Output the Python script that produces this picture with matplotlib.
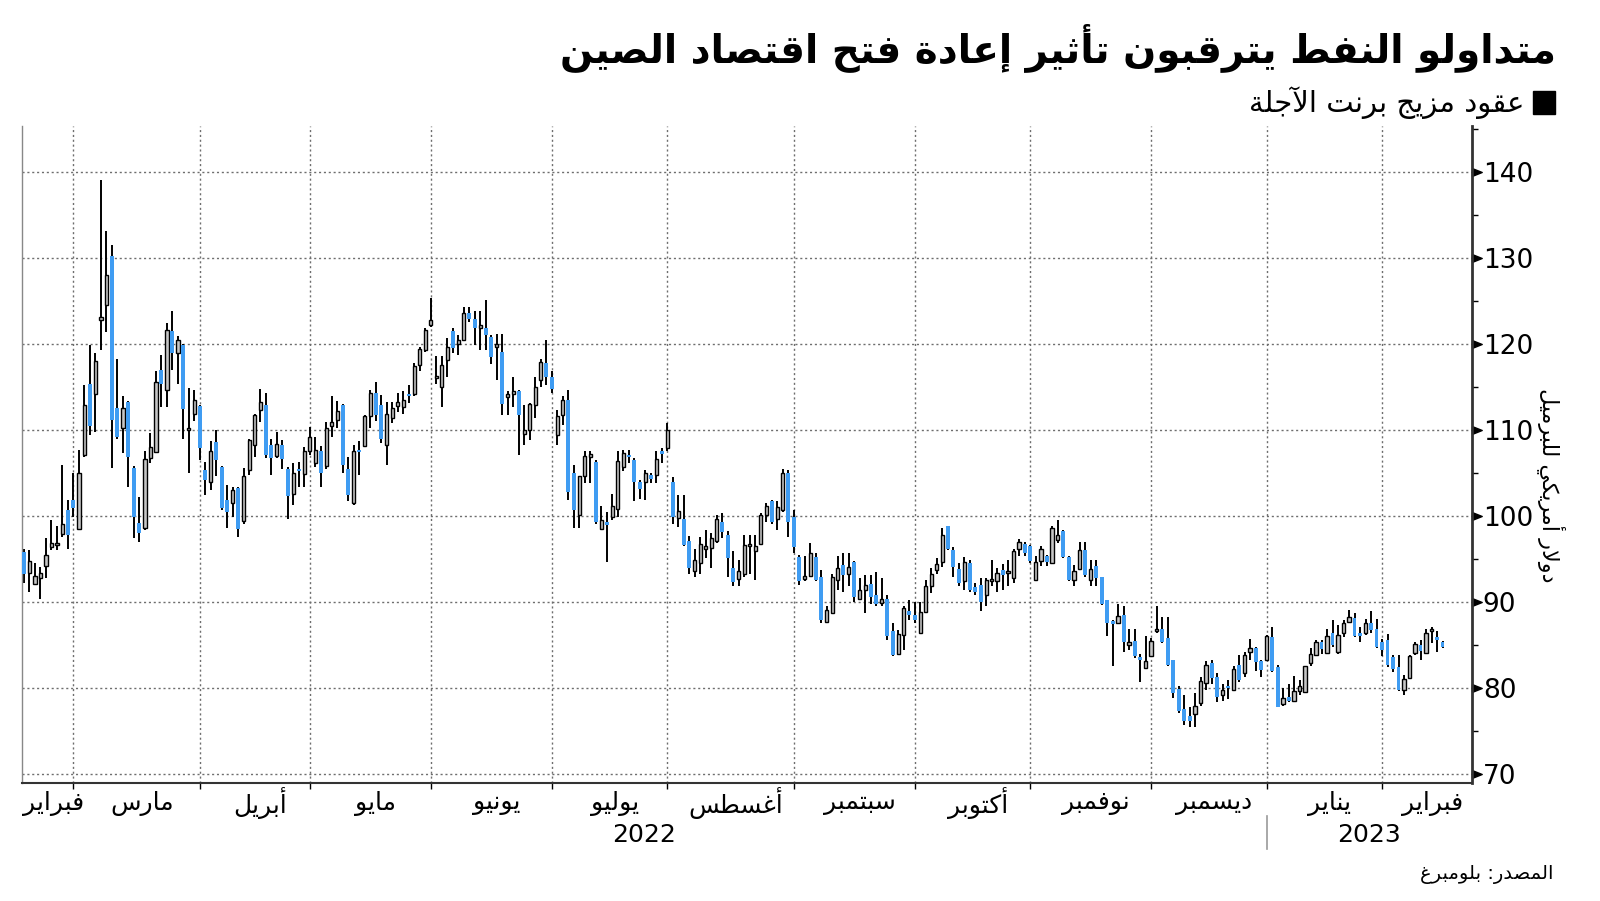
import numpy as np
import pandas as pd
import matplotlib
matplotlib.use('Agg')
import matplotlib.pyplot as plt
from matplotlib.path import Path
from matplotlib.ticker import MultipleLocator

plt.rcParams['font.family'] = 'DejaVu Sans'

BLUE = '#3f9cf2'
GREY = '#c6c6c6'
GRID = '#6e6e6e'

# Brent futures, daily candles
start_date = '2022-02-15'
end_date = '2023-02-15'
holidays = ['2022-04-15', '2022-12-26', '2023-01-02']

opens = [
    95.8, 93.4, 92.1, 92.8, 94.2, 96.4, 96.6, 97.9, 100.7, 101.9,
    98.5, 107.1, 115.3, 114.2, 122.8, 124.5, 130.2, 112.6, 110.2, 113.2,
    105.6, 99.2, 98.6, 106.7, 107.4, 117.0, 114.7, 121.5, 119.0, 119.9,
    110.0, 111.9, 112.8, 105.3, 104.0, 108.6, 105.7, 101.9, 101.5, 103.2,
    99.4, 105.4, 108.3, 112.3, 112.9, 108.3, 107.0, 108.3, 105.5, 102.6,
    105.4, 104.9, 107.5, 106.1, 107.5, 105.8, 110.5, 111.2, 112.9, 105.5,
    101.5, 107.7, 108.1, 111.6, 114.3, 112.9, 108.3, 111.4, 112.8, 112.7,
    114.2, 114.2, 117.6, 119.3, 122.2, 116.0, 115.0, 118.1, 121.5, 120.0,
    120.5, 123.6, 122.9, 121.9, 121.8, 120.8, 119.7, 119.1, 113.8, 114.2,
    114.5, 109.5, 110.0, 112.9, 115.8, 117.8, 116.1, 109.4, 111.7, 113.5,
    105.0, 100.1, 104.6, 106.9, 106.3, 98.5, 99.3, 99.9, 100.8, 105.7,
    107.1, 106.5, 103.9, 103.9, 104.8, 104.8, 107.5, 107.9, 104.0, 99.8,
    99.7, 97.1, 93.6, 94.5, 96.2, 96.3, 97.1, 99.3, 97.8, 93.9,
    92.7, 93.3, 96.5, 95.9, 96.7, 100.1, 101.7, 99.7, 100.7, 105.0,
    99.9, 95.2, 92.7, 93.0, 95.2, 92.9, 87.7, 88.7, 92.6, 94.3,
    93.3, 94.7, 90.4, 91.4, 92.1, 90.8, 89.9, 90.4, 86.6, 84.0,
    86.2, 89.0, 88.5, 86.4, 88.8, 91.8, 93.7, 94.7, 98.8, 96.0,
    93.8, 92.4, 94.5, 91.7, 92.0, 90.8, 92.4, 92.4, 93.7, 93.4,
    92.8, 96.1, 96.7, 96.5, 92.6, 94.8, 95.3, 94.5, 97.2, 98.3,
    95.2, 92.6, 93.8, 96.0, 92.6, 94.2, 92.9, 90.2, 87.8, 87.6,
    88.5, 85.0, 85.5, 83.6, 82.3, 83.7, 86.6, 86.9, 85.8, 83.3,
    79.9, 77.5, 76.7, 77.0, 78.2, 80.6, 82.9, 81.3, 79.2, 80.2,
    79.8, 82.7, 81.7, 84.2, 84.6, 83.1, 83.2, 85.9, 82.4, 78.1,
    78.9, 78.5, 79.6, 79.5, 82.9, 83.8, 85.3, 84.1, 86.4, 84.2,
    86.4, 87.7, 88.1, 86.4, 86.4, 87.6, 86.9, 85.3, 85.6, 83.6,
    82.4, 79.8, 81.2, 84.1, 85.0, 84.1, 86.6, 85.9, 85.3,
]
highs = [
    96.2, 96.0, 94.5, 94.1, 97.4, 99.5, 98.8, 105.9, 101.9, 105.0,
    107.7, 115.2, 119.9, 118.9, 139.1, 133.1, 131.5, 118.3, 113.9, 113.4,
    105.8, 102.2, 107.5, 109.6, 116.8, 118.7, 122.4, 123.8, 120.9, 120.0,
    114.9, 114.7, 112.9, 106.3, 108.7, 110.0, 105.8, 103.6, 103.4, 103.4,
    105.6, 109.0, 111.8, 114.8, 114.3, 109.0, 109.8, 108.8, 105.7, 106.1,
    106.3, 108.0, 110.4, 109.2, 108.1, 110.9, 113.9, 113.4, 113.0, 106.9,
    108.3, 108.7, 111.7, 114.7, 115.6, 114.1, 113.3, 113.3, 114.3, 114.5,
    115.2, 117.8, 119.7, 121.9, 125.3, 118.6, 118.6, 120.7, 121.9, 121.0,
    124.3, 124.3, 123.8, 123.8, 125.1, 121.0, 121.2, 121.2, 114.5, 116.2,
    114.6, 112.9, 113.1, 116.2, 118.3, 120.5, 116.8, 112.3, 113.9, 114.6,
    105.9, 104.7, 107.5, 107.6, 106.5, 101.1, 100.5, 102.6, 107.5, 107.7,
    107.7, 106.7, 104.2, 105.4, 105.0, 107.5, 107.9, 110.8, 104.5, 102.4,
    102.4, 97.7, 96.2, 97.6, 98.4, 98.0, 100.1, 100.3, 98.2, 95.9,
    94.9, 97.8, 97.8, 97.8, 100.3, 101.5, 101.9, 101.7, 105.5, 105.3,
    100.7, 95.5, 95.3, 96.9, 95.7, 93.7, 89.5, 93.3, 95.3, 95.7,
    95.7, 94.8, 92.8, 93.1, 93.1, 93.5, 92.8, 90.8, 87.6, 86.7,
    89.5, 90.2, 90.0, 90.0, 92.6, 93.9, 95.1, 98.6, 98.8, 96.4,
    94.5, 95.2, 94.9, 92.2, 92.8, 92.8, 94.9, 93.9, 94.4, 94.9,
    96.2, 97.3, 97.0, 96.6, 95.3, 96.5, 95.5, 98.8, 99.5, 98.4,
    95.4, 94.3, 97.0, 97.0, 94.9, 94.9, 92.9, 90.2, 87.9, 89.8,
    89.5, 86.8, 86.8, 84.0, 86.0, 85.8, 89.5, 88.3, 88.3, 83.3,
    80.2, 79.2, 77.8, 79.4, 81.3, 83.1, 83.3, 81.7, 80.5, 80.9,
    82.6, 83.8, 84.2, 85.7, 84.8, 83.3, 86.2, 87.1, 82.7, 80.0,
    80.5, 81.4, 80.9, 82.6, 84.6, 85.6, 85.6, 86.9, 87.9, 87.3,
    87.9, 89.1, 88.7, 87.1, 88.0, 89.0, 88.0, 85.7, 86.3, 83.8,
    83.8, 81.5, 83.8, 85.4, 85.6, 86.9, 87.1, 86.6, 85.5,
]
lows = [
    92.2, 91.2, 92.0, 90.4, 92.8, 96.0, 96.0, 97.6, 96.2, 99.9,
    98.4, 106.8, 109.4, 109.8, 119.3, 121.4, 105.6, 109.0, 107.3, 103.4,
    97.4, 97.0, 98.4, 106.1, 107.3, 112.7, 112.7, 117.0, 115.4, 109.0,
    105.0, 111.0, 106.5, 102.4, 103.0, 104.6, 100.7, 98.6, 99.9, 97.6,
    99.1, 104.8, 106.9, 110.9, 106.7, 104.8, 106.7, 105.5, 99.7, 101.3,
    103.4, 103.4, 107.1, 105.7, 103.4, 105.5, 109.2, 110.2, 105.0, 101.7,
    101.3, 104.8, 108.0, 110.2, 111.0, 108.5, 105.9, 110.8, 112.1, 111.9,
    113.1, 113.9, 116.8, 119.1, 122.0, 115.4, 112.7, 116.2, 118.9, 118.7,
    120.4, 122.6, 119.9, 119.3, 119.3, 117.7, 115.8, 111.7, 111.7, 112.7,
    107.1, 108.3, 108.8, 111.4, 115.0, 115.2, 114.3, 108.3, 110.6, 101.9,
    98.6, 98.6, 103.8, 103.8, 99.1, 98.4, 94.7, 99.5, 99.9, 105.2,
    106.1, 101.7, 102.0, 101.9, 103.8, 103.8, 106.1, 107.5, 99.1, 98.7,
    96.5, 93.3, 92.9, 93.3, 95.1, 93.9, 96.8, 97.4, 92.9, 91.8,
    91.8, 92.9, 93.3, 92.6, 96.6, 99.3, 99.1, 98.4, 100.5, 97.6,
    95.7, 92.0, 92.4, 92.9, 92.4, 87.5, 87.5, 88.6, 91.4, 91.2,
    91.8, 90.0, 90.2, 88.7, 89.8, 89.5, 89.5, 85.6, 83.7, 83.8,
    84.4, 87.9, 87.5, 86.4, 88.7, 91.0, 93.3, 94.1, 96.0, 92.9,
    91.8, 91.4, 91.2, 90.8, 88.9, 89.5, 91.9, 91.2, 91.4, 91.8,
    92.2, 95.4, 95.3, 94.5, 92.5, 94.2, 94.2, 94.4, 96.8, 95.1,
    92.4, 91.9, 93.7, 92.9, 91.8, 91.8, 89.7, 86.0, 82.5, 87.5,
    84.2, 84.4, 83.5, 80.7, 82.2, 83.6, 86.4, 85.2, 82.5, 78.8,
    77.1, 75.7, 75.5, 75.5, 77.9, 79.8, 80.5, 78.4, 78.5, 78.7,
    79.6, 80.7, 81.3, 83.3, 82.0, 81.3, 83.1, 81.8, 77.8, 77.9,
    78.4, 78.4, 79.2, 79.4, 82.6, 83.7, 84.0, 83.9, 84.8, 83.9,
    85.9, 87.5, 85.9, 85.4, 86.2, 86.4, 84.6, 83.7, 82.4, 81.8,
    79.6, 79.2, 81.1, 83.8, 83.2, 84.0, 85.2, 84.2, 84.7,
]
closes = [
    93.3, 94.8, 93.0, 93.4, 95.5, 96.8, 96.8, 99.1, 97.8, 100.9,
    105.0, 112.9, 110.5, 118.0, 123.1, 128.0, 111.2, 109.2, 112.6, 106.9,
    99.9, 98.0, 106.6, 108.0, 115.6, 115.4, 121.6, 119.0, 120.5, 112.4,
    110.2, 113.5, 107.9, 104.2, 107.5, 106.5, 100.9, 100.5, 103.0, 98.5,
    104.6, 108.8, 111.7, 113.2, 107.1, 106.7, 108.4, 106.6, 102.3, 105.0,
    105.2, 107.6, 109.2, 107.7, 105.0, 110.2, 110.9, 112.2, 105.9, 102.4,
    107.5, 107.4, 111.6, 114.3, 111.7, 109.0, 111.9, 112.5, 113.3, 113.5,
    113.9, 117.4, 119.4, 121.6, 122.8, 116.2, 117.6, 119.7, 119.5, 120.5,
    123.6, 122.9, 121.9, 122.2, 121.0, 118.5, 119.8, 113.0, 114.2, 114.5,
    111.7, 110.0, 113.0, 115.0, 117.9, 116.2, 114.8, 111.6, 113.5, 102.8,
    100.7, 104.6, 107.0, 107.0, 99.3, 99.5, 99.0, 101.1, 106.4, 107.3,
    106.8, 103.9, 103.1, 105.0, 104.3, 106.6, 107.2, 110.0, 99.9, 100.6,
    96.6, 94.0, 94.9, 96.7, 96.3, 97.4, 99.6, 98.1, 95.1, 92.3,
    93.6, 96.6, 96.6, 96.5, 100.1, 101.1, 99.3, 101.0, 105.0, 99.3,
    96.4, 92.4, 93.0, 95.7, 92.6, 87.9, 89.1, 92.9, 93.9, 93.1,
    94.1, 90.6, 91.4, 92.0, 90.6, 89.8, 90.4, 86.0, 83.8, 86.3,
    89.3, 88.5, 87.9, 88.8, 91.9, 93.3, 94.4, 97.8, 96.2, 94.1,
    92.2, 94.6, 91.4, 91.2, 90.0, 92.6, 92.5, 93.4, 93.1, 93.5,
    95.9, 97.0, 95.7, 94.8, 94.7, 96.1, 94.6, 98.6, 97.8, 95.2,
    92.5, 93.6, 96.0, 93.1, 93.8, 92.8, 89.8, 87.6, 87.4, 88.4,
    85.3, 85.4, 83.7, 83.3, 83.1, 85.5, 86.7, 85.4, 82.7, 79.4,
    77.3, 76.1, 76.2, 77.9, 80.8, 82.7, 81.1, 79.0, 79.8, 80.0,
    82.2, 80.9, 83.8, 84.6, 83.0, 82.1, 86.0, 82.0, 77.8, 78.8,
    78.5, 79.6, 80.2, 82.6, 84.0, 85.4, 84.5, 86.0, 85.0, 86.2,
    87.6, 88.2, 86.0, 86.0, 87.5, 86.7, 84.8, 84.4, 82.7, 82.2,
    79.8, 81.0, 83.7, 85.1, 84.3, 86.4, 86.7, 85.6, 84.8,
]

month_names = ['فبراير', 'مارس', 'أبريل', 'مايو', 'يونيو', 'يوليو', 'أغسطس',
               'سبتمبر', 'أكتوبر', 'نوفمبر', 'ديسمبر', 'يناير', 'فبراير']
year_names = ['2022', '2023']
y_ticks = [70, 80, 90, 100, 110, 120, 130, 140]

title = 'متداولو النفط يترقبون تأثير إعادة فتح اقتصاد الصين'
series_name = 'عقود مزيج برنت الآجلة'
unit_label = 'دولار أمريكي للبرميل'
source = 'المصدر: بلومبرغ'


# matplotlib has no arabic shaping, so pick presentation forms by hand
DUAL = {'ئ': 0xFE89, 'ب': 0xFE8F, 'ت': 0xFE95, 'ث': 0xFE99, 'ج': 0xFE9D,
        'ح': 0xFEA1, 'خ': 0xFEA5, 'س': 0xFEB1, 'ش': 0xFEB5, 'ص': 0xFEB9,
        'ض': 0xFEBD, 'ط': 0xFEC1, 'ظ': 0xFEC5, 'ع': 0xFEC9, 'غ': 0xFECD,
        'ف': 0xFED1, 'ق': 0xFED5, 'ك': 0xFED9, 'ل': 0xFEDD, 'م': 0xFEE1,
        'ن': 0xFEE5, 'ه': 0xFEE9, 'ي': 0xFEF1}
RIGHT = {'آ': 0xFE81, 'أ': 0xFE83, 'ؤ': 0xFE85, 'إ': 0xFE87, 'ا': 0xFE8D,
         'ة': 0xFE93, 'د': 0xFEA9, 'ذ': 0xFEAB, 'ر': 0xFEAD, 'ز': 0xFEAF,
         'و': 0xFEED, 'ى': 0xFEEF}
LAMALEF = {'آ': 0xFEF5, 'أ': 0xFEF7, 'إ': 0xFEF9, 'ا': 0xFEFB}


def ar(text):
    units = []
    i = 0
    while i < len(text):
        if text[i] == 'ل' and i + 1 < len(text) and text[i + 1] in LAMALEF:
            units.append(('LA', text[i + 1]))
            i += 2
        else:
            units.append(('C', text[i]))
            i += 1

    def kind(u):
        if u[0] == 'LA' or u[1] in RIGHT:
            return 'R'
        if u[1] in DUAL:
            return 'D'
        return None

    out = []
    for j, u in enumerate(units):
        k = kind(u)
        if k is None:
            out.append(u[1])
            continue
        prev = kind(units[j - 1]) if j > 0 else None
        nxt = kind(units[j + 1]) if j + 1 < len(units) else None
        join_prev = prev == 'D'
        join_next = k == 'D' and nxt is not None
        if u[0] == 'LA':
            base = LAMALEF[u[1]]
        else:
            base = DUAL.get(u[1], RIGHT.get(u[1]))
        off = 0
        if join_prev and join_next:
            off = 3
        elif join_next:
            off = 2
        elif join_prev:
            off = 1
        out.append(chr(base + off))
    return ''.join(reversed(out))


dates = pd.bdate_range(start_date, end_date).drop(pd.to_datetime(holidays))
x = np.arange(len(dates))
o = np.array(opens)
h = np.array(highs)
l = np.array(lows)
c = np.array(closes)

xlo, xhi = -0.3, len(x) + 4.3

fig = plt.figure(figsize=(16, 9.01), dpi=100)
ax = fig.add_axes([0.0139, 0.131, 0.9059, 0.7297])

# wicks then bodies
ax.vlines(x, l, h, color='black', linewidth=1.4, zorder=2)
up = c >= o
body_h = np.maximum(np.abs(c - o), 0.25)
body_b = np.minimum(o, c)
ax.bar(x[up], body_h[up], bottom=body_b[up], width=0.6, color=GREY,
       edgecolor='black', linewidth=1.0, zorder=3)
ax.bar(x[~up], body_h[~up], bottom=body_b[~up], width=0.7, color=BLUE,
       linewidth=0, zorder=3)

ax.set_xlim(xlo, xhi)
ax.set_ylim(68.95, 145.4)

# month boundaries sit on the last trading day of each month
per = dates.to_period('M')
months = per.unique()
ends = [x[per == p][-1] for p in months][:-1]
bounds = [xlo] + ends + [xhi]
centers = [(bounds[k] + bounds[k + 1]) / 2 for k in range(len(bounds) - 1)]

ax.set_xticks(ends)
ax.set_xticklabels([])
ax.tick_params(axis='x', length=4, width=1, color='black')
for k, name in enumerate(month_names):
    ax.text(centers[k] + 1, -0.031, ar(name), transform=ax.get_xaxis_transform(),
            ha='center', va='center', fontsize=18)

year_cut = ends[10]
ax.text((xlo + year_cut) / 2, -0.079, year_names[0], transform=ax.get_xaxis_transform(),
        ha='center', va='center', fontsize=18)
ax.text((year_cut + xhi) / 2, -0.079, year_names[1], transform=ax.get_xaxis_transform(),
        ha='center', va='center', fontsize=18)
ax.plot([year_cut, year_cut], [-0.050, -0.100], transform=ax.get_xaxis_transform(),
        color='#999999', linewidth=1.2, clip_on=False)

ax.yaxis.tick_right()
ax.set_yticks(y_ticks)
ax.yaxis.set_minor_locator(MultipleLocator(5))
ax.tick_params(axis='y', which='major', length=0, pad=8, labelsize=19)
ax.tick_params(axis='y', which='minor', length=4, width=1, color='black')

tri = Path([(0, -0.4), (1, 0), (0, 0.4), (0, -0.4)],
           [Path.MOVETO, Path.LINETO, Path.LINETO, Path.CLOSEPOLY])
ax.plot(np.ones(len(y_ticks)), y_ticks, ls='none', marker=tri, ms=14,
        color='black', transform=ax.get_yaxis_transform(), clip_on=False)

ax.grid(True, which='major', axis='both', color=GRID, linestyle=(0, (1.5, 2)),
        linewidth=1.0)
ax.set_axisbelow(True)

ax.spines['top'].set_visible(False)
ax.spines['right'].set_linewidth(2)
ax.spines['right'].set_color('#333333')
ax.spines['bottom'].set_linewidth(1.5)
ax.spines['bottom'].set_color('#333333')
ax.spines['left'].set_linewidth(1)
ax.spines['left'].set_color('#888888')

fig.text(1556 / 1600, 1 - 48 / 901, ar(title), ha='right', va='center',
         fontsize=28, fontweight='bold')
fig.patches.append(plt.Rectangle((1533 / 1600, 1 - 114 / 901), 22 / 1600, 23 / 901,
                                 transform=fig.transFigure, color='black'))
fig.text(1524 / 1600, 1 - 103 / 901, ar(series_name), ha='right', va='center',
         fontsize=21)
fig.text(1551 / 1600, 1 - 485 / 901, ar(unit_label), ha='center', va='center',
         rotation=270, fontsize=16)
fig.text(1554 / 1600, 1 - 875 / 901, ar(source), ha='right', va='center',
         fontsize=14)

plt.savefig('out.png', dpi=100)
